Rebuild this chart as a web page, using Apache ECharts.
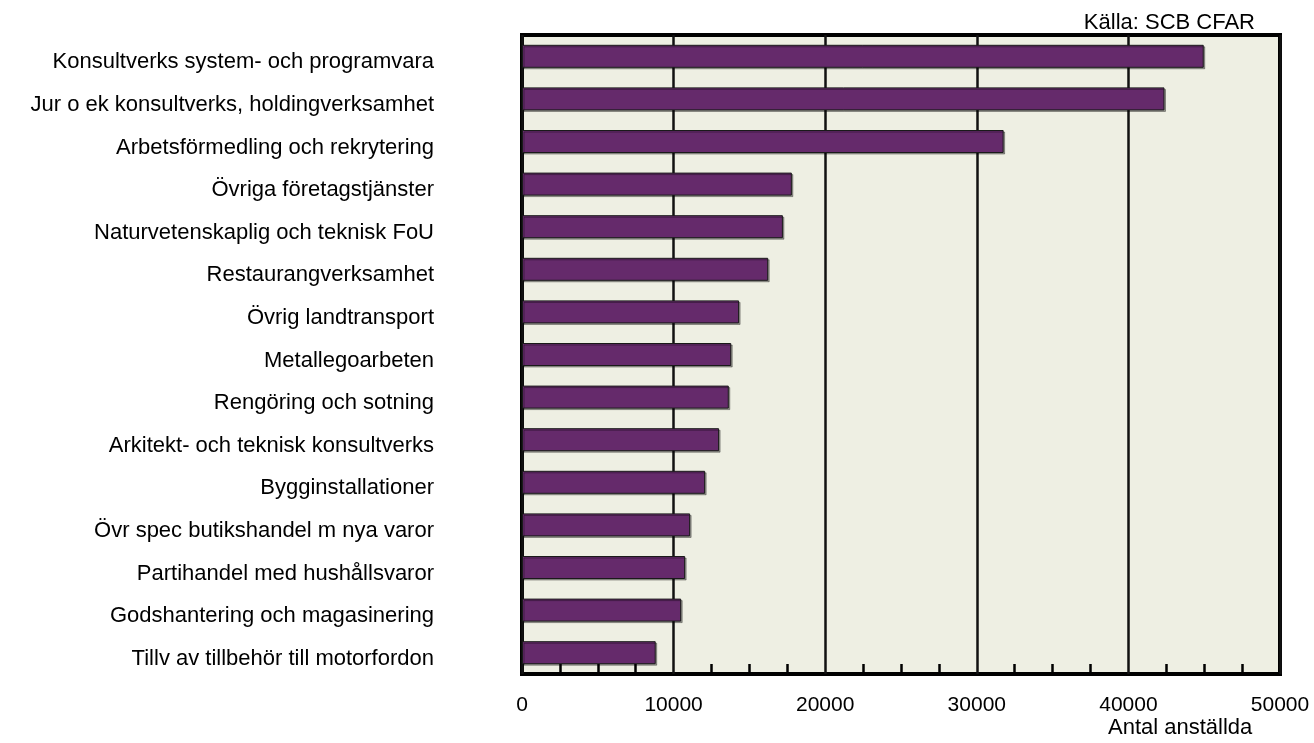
<!doctype html>
<html>
<head>
<meta charset="utf-8" />
<title>Antal anställda</title>
<script src="https://cdn.jsdelivr.net/npm/echarts@6/dist/echarts.min.js"></script>
<style>
  html, body { margin: 0; padding: 0; background: #fff; }
  #main { width: 1314px; height: 743px; }
</style>
</head>
<body>
<div id="main"></div>
<script>
// branscher, uppifrån och ned
var branscher = [
  'Konsultverks system- och programvara',
  'Jur o ek konsultverks, holdingverksamhet',
  'Arbetsförmedling och rekrytering',
  'Övriga företagstjänster',
  'Naturvetenskaplig och teknisk FoU',
  'Restaurangverksamhet',
  'Övrig landtransport',
  'Metallegoarbeten',
  'Rengöring och sotning',
  'Arkitekt- och teknisk konsultverks',
  'Bygginstallationer',
  'Övr spec butikshandel m nya varor',
  'Partihandel med hushållsvaror',
  'Godshantering och magasinering',
  'Tillv av tillbehör till motorfordon'
];
var anstallda = [44970, 42380, 31770, 17800, 17210, 16240, 14320, 13800, 13640, 13000, 12080, 11090, 10760, 10500, 8820];
var xTicks = [0, 10000, 20000, 30000, 40000, 50000];

var FONT = "'Liberation Sans', Arial, sans-serif";

var myChart = echarts.init(document.getElementById('main'));

var option = {
  backgroundColor: '#ffffff',
  animation: false,
  textStyle: { fontFamily: FONT },
  graphic: [
    { type: 'text', right: 59, top: 12,
      style: { text: 'Källa: SCB CFAR', font: '22px ' + FONT, fill: '#000' } },
    { type: 'text', left: 1108, top: 717,
      style: { text: 'Antal anställda', font: '22px ' + FONT, fill: '#000' } }
  ],
  grid: {
    left: 522, right: 34, top: 35, bottom: 69,
    show: true,
    backgroundColor: '#EEEFE3',
    borderColor: '#000',
    borderWidth: 4,
    containLabel: false,
    outerBoundsMode: 'none'
  },
  xAxis: {
    type: 'value',
    min: xTicks[0],
    max: xTicks[xTicks.length - 1],
    interval: 10000,
    axisLine: { show: false },
    axisTick: { show: false, inside: true },
    minorTick: { show: true, splitNumber: 4, length: 10, lineStyle: { color: '#000', width: 2.5 } },
    splitLine: { show: true, lineStyle: { color: '#111', width: 2.5 } },
    axisLabel: {
      color: '#000', fontSize: 21, fontFamily: FONT, margin: 21,
      formatter: function (v) { return String(v); }
    }
  },
  yAxis: {
    type: 'category',
    data: branscher,
    inverse: true,
    axisLine: { show: false },
    axisTick: { show: false },
    splitLine: { show: false },
    axisLabel: {
      color: '#000', fontSize: 22, fontFamily: FONT, margin: 88,
      verticalAlign: 'top', lineHeight: 12
    }
  },
  series: [{
    type: 'bar',
    data: anstallda,
    barWidth: 23,
    itemStyle: {
      color: '#652A6B',
      borderColor: '#1a1a1a',
      borderWidth: 1,
      shadowColor: 'rgba(0,0,0,0.35)',
      shadowOffsetX: 1.5,
      shadowOffsetY: 1.5
    }
  }]
};

myChart.setOption(option);
</script>
</body>
</html>
